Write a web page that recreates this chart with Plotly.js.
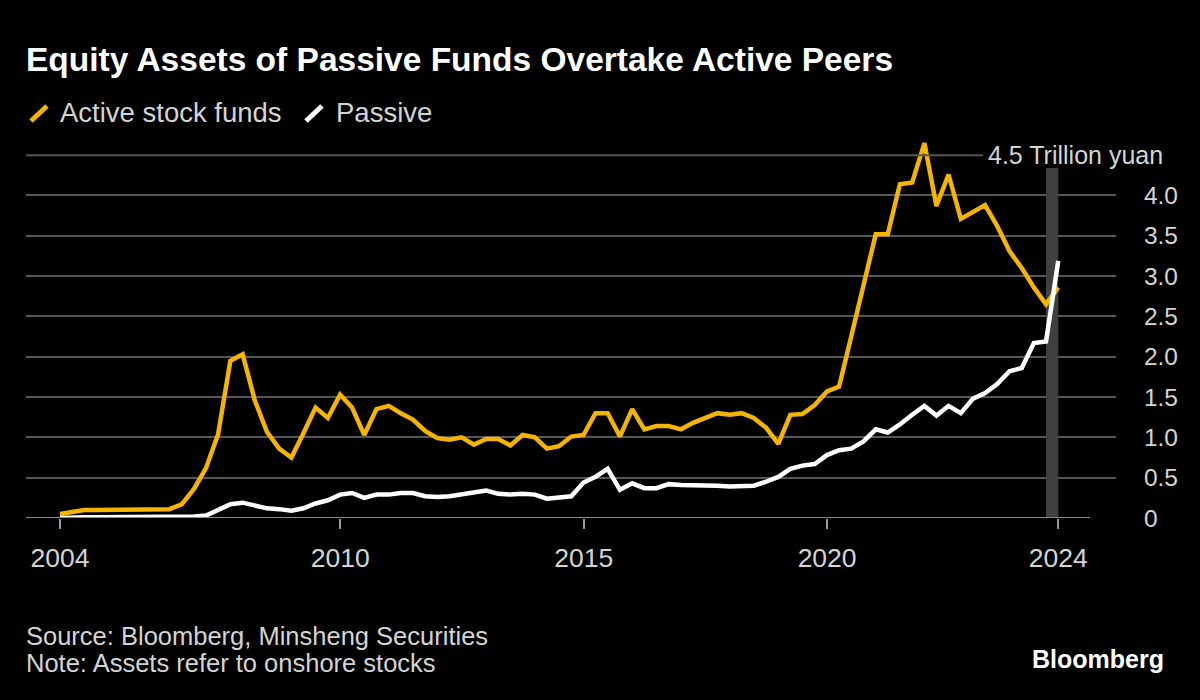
<!DOCTYPE html>
<html>
<head>
<meta charset="utf-8">
<script src="https://cdn.plot.ly/plotly-3.0.1.min.js"></script>
<style>
  html, body { margin: 0; padding: 0; background: #000; }
  #chart { width: 1200px; height: 700px; }
</style>
</head>
<body>
<div id="chart"></div>
<script>
// Quarterly data, 2004 Q1 through 2024 Q3 (trillion yuan)
const firstYear = 2004;
const quarterCount = 83;

const activeFunds = [
  0.05, 0.07, 0.10, 0.10,   // 2004
  0.10, 0.10, 0.10, 0.10,   // 2005
  0.10, 0.11, 0.17, 0.36,   // 2006
  0.62, 1.04, 1.95, 2.03,   // 2007
  1.46, 1.07, 0.86, 0.75,   // 2008
  1.05, 1.37, 1.24, 1.53,   // 2009
  1.37, 1.03, 1.35, 1.39,   // 2010
  1.30, 1.22, 1.08, 0.99,   // 2011
  0.97, 1.00, 0.91, 0.98,   // 2012
  0.98, 0.90, 1.03, 1.00,   // 2013
  0.86, 0.89, 1.01, 1.03,   // 2014
  1.30, 1.30, 1.01, 1.35,   // 2015
  1.10, 1.14, 1.14, 1.10,   // 2016
  1.18, 1.24, 1.30, 1.28,   // 2017
  1.30, 1.24, 1.12, 0.92,   // 2018
  1.28, 1.29, 1.40, 1.57,   // 2019
  1.63, 2.25, 2.88, 3.52,   // 2020
  3.52, 4.14, 4.16, 4.65,   // 2021
  3.87, 4.26, 3.71, 3.80,   // 2022
  3.88, 3.62, 3.31, 3.10,   // 2023
  2.86, 2.65, 2.86          // 2024
];

const passiveFunds = [
  0.00, 0.01, 0.01, 0.01,   // 2004
  0.01, 0.01, 0.01, 0.01,   // 2005
  0.01, 0.01, 0.01, 0.02,   // 2006
  0.03, 0.10, 0.17, 0.19,   // 2007
  0.15, 0.12, 0.11, 0.09,   // 2008
  0.12, 0.18, 0.22, 0.29,   // 2009
  0.31, 0.25, 0.29, 0.29,   // 2010
  0.31, 0.31, 0.27, 0.26,   // 2011
  0.27, 0.29, 0.32, 0.34,   // 2012
  0.30, 0.29, 0.30, 0.29,   // 2013
  0.24, 0.26, 0.27, 0.44,   // 2014
  0.51, 0.61, 0.35, 0.43,   // 2015
  0.37, 0.37, 0.42, 0.41,   // 2016
  0.41, 0.40, 0.40, 0.39,   // 2017
  0.40, 0.40, 0.45, 0.51,   // 2018
  0.61, 0.65, 0.67, 0.78,   // 2019
  0.84, 0.86, 0.95, 1.10,   // 2020
  1.06, 1.16, 1.28, 1.39,   // 2021
  1.27, 1.39, 1.30, 1.48,   // 2022
  1.55, 1.66, 1.82, 1.86,   // 2023
  2.17, 2.19, 3.19          // 2024
];

const seriesNames = ['Active stock funds', 'Passive'];
const xTickVals = ['2004-03-31', '2010-01-01', '2015-01-01', '2020-01-01', '2024-09-30'];
const xTickText = ['2004', '2010', '2015', '2020', '2024'];
const yTickVals = [0, 0.5, 1, 1.5, 2, 2.5, 3, 3.5, 4];
const yTickText = ['0', '0.5', '1.0', '1.5', '2.0', '2.5', '3.0', '3.5', '4.0'];
const unitLabel = '4.5 Trillion yuan';
const unitValue = 4.5;
const highlightStart = '2024-06-30';
const highlightEnd = '2024-09-30';
const titleText = 'Equity Assets of Passive Funds Overtake Active Peers';
const sourceText = 'Source: Bloomberg, Minsheng Securities';
const noteText = 'Note: Assets refer to onshore stocks';

// quarter-end dates
const qEnds = ['03-31', '06-30', '09-30', '12-31'];
const dates = [];
for (let i = 0; i < quarterCount; i++) {
  dates.push((firstYear + Math.floor(i / 4)) + '-' + qEnds[i % 4]);
}

const YELLOW = '#F4B400';
const WHITE = '#FFFFFF';
const GRID = '#575757';
const TEXT = '#d4d4d4';
const FONT = 'Liberation Sans, Arial, Helvetica, sans-serif';

// plot area in pixels
const L = 26, R = 1116, T = 135, B = 518;
const px = X => (X - L) / (R - L);
const py = Y => (B - Y) / (B - T);

const traces = [
  { x: dates, y: activeFunds, name: seriesNames[0], type: 'scatter', mode: 'lines',
    line: { color: YELLOW, width: 4.5 } },
  { x: dates, y: passiveFunds, name: seriesNames[1], type: 'scatter', mode: 'lines',
    line: { color: WHITE, width: 4.5 } }
];

const layout = {
  width: 1200, height: 700,
  paper_bgcolor: '#000', plot_bgcolor: '#000',
  margin: { l: L, r: 1200 - R, t: T, b: 700 - B, pad: 0 },
  showlegend: false,
  font: { family: FONT, color: TEXT },
  title: {
    text: '<b>' + titleText + '</b>',
    font: { size: 33.5, color: '#ffffff', family: FONT },
    xref: 'container', x: 26 / 1200, xanchor: 'left',
    yref: 'container', y: 1 - 59 / 700, yanchor: 'middle'
  },
  xaxis: {
    type: 'date', range: ['2003-07-20', '2025-12-07'],
    tickmode: 'array', tickvals: xTickVals, ticktext: xTickText,
    ticks: 'outside', ticklen: 10, tickwidth: 2, tickcolor: '#9a9a9a',
    showgrid: false, zeroline: false, showline: false,
    tickfont: { size: 26.5, color: TEXT, family: FONT },
    ticklabelstandoff: 6,
    fixedrange: true
  },
  yaxis: {
    side: 'right', range: [0, 4.75],
    tickmode: 'array', tickvals: yTickVals, ticktext: yTickText,
    showgrid: true, gridcolor: GRID, gridwidth: 2,
    zeroline: false, showline: false,
    ticks: 'outside', ticklen: 22, tickwidth: 1, tickcolor: 'rgba(0,0,0,0)',
    tickfont: { size: 24.5, color: TEXT, family: FONT },
    fixedrange: true
  },
  shapes: [
    { type: 'rect', xref: 'x', yref: 'y', x0: highlightStart, x1: highlightEnd,
      y0: 0, y1: 4.34, fillcolor: '#404040', line: { width: 0 }, layer: 'between' },
    { type: 'line', xref: 'paper', yref: 'y', x0: 0, x1: px(983), y0: unitValue, y1: unitValue,
      line: { color: GRID, width: 2 } },
    { type: 'line', xref: 'paper', yref: 'y', x0: 0, x1: px(1090), y0: 0, y1: 0,
      line: { color: '#8a8a8a', width: 2 } },
    { type: 'line', xref: 'paper', yref: 'paper', x0: px(31), y0: py(121), x1: px(47), y1: py(106),
      line: { color: YELLOW, width: 5 } },
    { type: 'line', xref: 'paper', yref: 'paper', x0: px(306), y0: py(121), x1: px(322), y1: py(106),
      line: { color: WHITE, width: 5 } }
  ],
  annotations: [
    { xref: 'paper', yref: 'y', x: px(1165), y: unitValue, xanchor: 'right', yanchor: 'middle',
      text: unitLabel, showarrow: false, font: { size: 25, color: TEXT, family: FONT } },
    { xref: 'paper', yref: 'paper', x: px(58), y: py(113), xanchor: 'left', yanchor: 'middle',
      text: seriesNames[0], showarrow: false, font: { size: 27.5, color: TEXT, family: FONT } },
    { xref: 'paper', yref: 'paper', x: px(334), y: py(113), xanchor: 'left', yanchor: 'middle',
      text: seriesNames[1], showarrow: false, font: { size: 27.5, color: TEXT, family: FONT } },
    { xref: 'paper', yref: 'paper', x: px(24), y: py(636), xanchor: 'left', yanchor: 'middle',
      text: sourceText, showarrow: false, font: { size: 25.5, color: TEXT, family: FONT } },
    { xref: 'paper', yref: 'paper', x: px(24), y: py(663), xanchor: 'left', yanchor: 'middle',
      text: noteText, showarrow: false, font: { size: 25.5, color: TEXT, family: FONT } },
    { xref: 'paper', yref: 'paper', x: px(1166), y: py(659), xanchor: 'right', yanchor: 'middle',
      text: '<b>Bloomberg</b>', showarrow: false, font: { size: 25, color: '#ffffff', family: FONT } }
  ]
};

Plotly.newPlot('chart', traces, layout, { staticPlot: true, displayModeBar: false });
</script>
</body>
</html>
